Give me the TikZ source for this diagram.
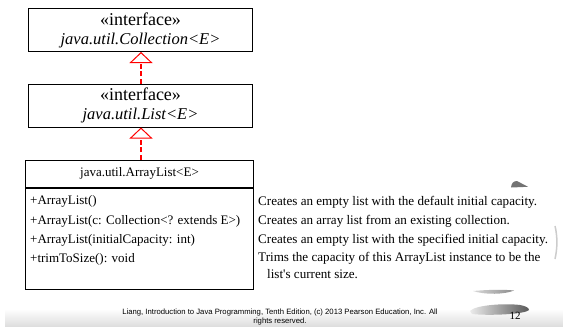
\documentclass[tikz,border=0pt]{standalone}
\usepackage{fontspec}
\setmainfont{Liberation Serif}[Ligatures=TeXOff]
\newfontfamily\footfont{Liberation Sans}
\usetikzlibrary{arrows.meta}
\begin{document}
\begin{tikzpicture}[x=1bp,y=-1bp,
  ifacebox/.style={draw=black, line width=1bp, minimum width=223bp, minimum height=43bp, inner sep=0pt,
    align=center, font=\fontsize{16.5bp}{19bp}\selectfont},
  classbox/.style={draw=black, line width=1bp, minimum width=227bp, inner sep=0pt},
  member/.style={anchor=west, inner sep=0pt, font=\fontsize{13bp}{15bp}\selectfont},
  desc/.style={anchor=west, inner sep=0pt, align=left, font=\fontsize{13.1bp}{17bp}\selectfont},
  realize/.style={draw=red, line width=2bp, dash pattern=on 5bp off 2.5bp,
    -{Triangle[width=23bp, length=11bp, fill=white, line width=1bp, sep=0pt]}}
]
\useasboundingbox (0,0) rectangle (563,326);
% footer band
\shade[top color=white, bottom color=black!13] (5,309) rectangle (563,326);

% interface boxes
\node[ifacebox] (coll) at (140.5,30) {{\fontsize{18bp}{19bp}\selectfont «interface»}\\\textit{java.util.Collection<E>}};
\node[ifacebox] (list) at (140.5,105.5) {{\fontsize{18bp}{19bp}\selectfont «interface»}\\\textit{java.util.List<E>}};

% class box
\node[classbox, minimum height=27bp, font=\fontsize{13bp}{15bp}\selectfont] (arrtitle) at (139.5,173.5) {java.util.ArrayList<E>};
\node[classbox, minimum height=101bp, anchor=north] (arrbody) at (arrtitle.south) {};

\node[member] (m1) at (30,201) {+ArrayList()};
\node[member] (m2) at (30,221) {+ArrayList(c: Collection<? extends E>)};
\node[member] (m3) at (30,240) {+ArrayList(initialCapacity: int)};
\node[member] (m4) at (30,259.5) {+trimToSize(): void};

\node[desc] (d1) at (258,202) {Creates an empty list with the default initial capacity.};
\node[desc] (d2) at (258,221) {Creates an array list from an existing collection.};
\node[desc] (d3) at (258,240.5) {Creates an empty list with the specified initial capacity.};
\node[desc, anchor=north west] (d4) at (258,252) {Trims the capacity of this ArrayList instance to be the\\\hspace*{9bp}list's current size.};

% realization arrows
\draw[realize] (list.north -| 141,0) -- (coll.south -| 141,0);
\draw[realize] (arrtitle.north -| 141,0) -- (list.south -| 141,0);

% slide decorations
\fill[black!55] (511,187.5) .. controls (511.5,183) and (513.5,181) .. (517,181) -- (528,186.8) -- cycle;
\draw[black!20, line width=1.5bp] (555,226) .. controls (557.5,236) and (557.5,248) .. (555,259);
\shade[left color=black!15, right color=black!45, shading angle=90]
  (473,291) .. controls (490,289.5) and (505,289.5) .. (514,290.5) .. controls (505,294.5) and (485,295) .. cycle;
\shade[left color=black!8, right color=black!65]
  (470,311) .. controls (475,305) and (505,303) .. (520,305) .. controls (526,306) and (529,308) .. (529,310)
  .. controls (526,314) and (490,316) .. (472,314) -- cycle;
\node[inner sep=0pt, font=\fontsize{11bp}{13bp}\selectfont] (pagenum) at (515,316) {12};

% footer
\node[inner sep=0pt, align=center, font=\footfont\fontsize{7.7bp}{8.5bp}\selectfont] (footer) at (280,317)
  {Liang, Introduction to Java Programming, Tenth Edition, (c) 2013 Pearson Education, Inc. All\\rights reserved.};
\end{tikzpicture}
\end{document}
